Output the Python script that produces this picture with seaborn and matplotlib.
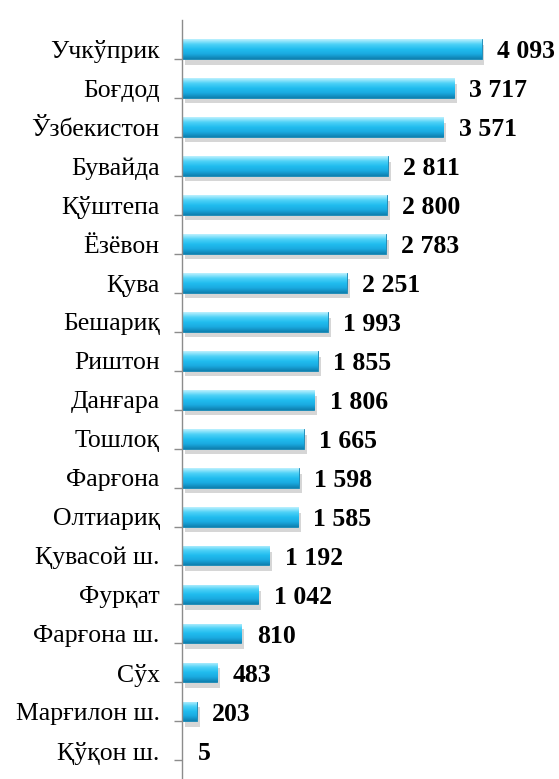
import numpy as np
import pandas as pd
import matplotlib
matplotlib.use('Agg')
import matplotlib.pyplot as plt
import matplotlib.patheffects as pe
from matplotlib.colors import LinearSegmentedColormap
import seaborn as sns

districts = ['Учкўприк', 'Боғдод', 'Ўзбекистон', 'Бувайда', 'Қўштепа', 'Ёзёвон',
             'Қува', 'Бешариқ', 'Риштон', 'Данғара', 'Тошлоқ', 'Фарғона', 'Олтиариқ',
             'Қувасой ш.', 'Фурқат', 'Фарғона ш.', 'Сўх', 'Марғилон ш.', 'Қўқон ш.']
values = [4093, 3717, 3571, 2811, 2800, 2783, 2251, 1993, 1855, 1806, 1665, 1598,
          1585, 1192, 1042, 810, 483, 203, 5]

df = pd.DataFrame({'district': districts, 'value': values})

sns.set_style('white')
plt.rcParams['font.family'] = ['Liberation Serif', 'DejaVu Serif']

fig = plt.figure(figsize=(5.59, 7.79), dpi=100)
ax = fig.add_axes([182 / 559, 0, 1 - 182 / 559, 1 - 20 / 779])

sns.barplot(data=df, y='district', x='value', orient='h', color='#22B8EA',
            width=0.5, ax=ax, edgecolor='#1286B5', linewidth=0.6)

# градиент и тень на столбцах
grad = LinearSegmentedColormap.from_list('bar', ['#BDF1FE', '#4FD2F7', '#21BDEF', '#1AAAE0', '#0F80B0'])
shade = np.linspace(0, 1, 64).reshape(-1, 1)
for p in ax.patches:
    p.set_path_effects([pe.SimplePatchShadow(offset=(2, -4), shadow_rgbFace='#9a9a9a', alpha=0.4),
                        pe.Normal()])
    x0, y0, w, h = p.get_x(), p.get_y(), p.get_width(), p.get_height()
    if w <= 0:
        continue
    im = ax.imshow(shade, cmap=grad, extent=[x0, x0 + w, y0 + h, y0],
                   aspect='auto', zorder=p.get_zorder() + 0.1, interpolation='bilinear')
    im.set_clip_path(p)

ax.set_xlim(0, 5150)
ax.set_ylim(len(districts) - 1 + 0.73, -0.75)

for i, v in enumerate(values):
    ax.text(v + 210, i + 0.07, f'{v:,}'.replace(',', ' '), va='center', ha='left',
            fontsize=18.5, fontweight='bold', color='black')

ax.set_xlabel('')
ax.set_ylabel('')
ax.set_xticks([])
ax.set_yticks(range(len(districts)))
ax.set_yticklabels(districts, fontsize=18.5, color='black')
ax.set_yticks(np.arange(len(districts)) + 0.25, minor=True)
ax.tick_params(axis='y', which='major', left=False, length=0, pad=16)
ax.tick_params(axis='y', which='minor', left=True, length=6, width=1, color='#8c8c8c', direction='out')
for s in ['top', 'right', 'bottom']:
    ax.spines[s].set_visible(False)
ax.spines['left'].set_color('#8c8c8c')
ax.spines['left'].set_linewidth(1)

fig.savefig('out.png', dpi=100)
